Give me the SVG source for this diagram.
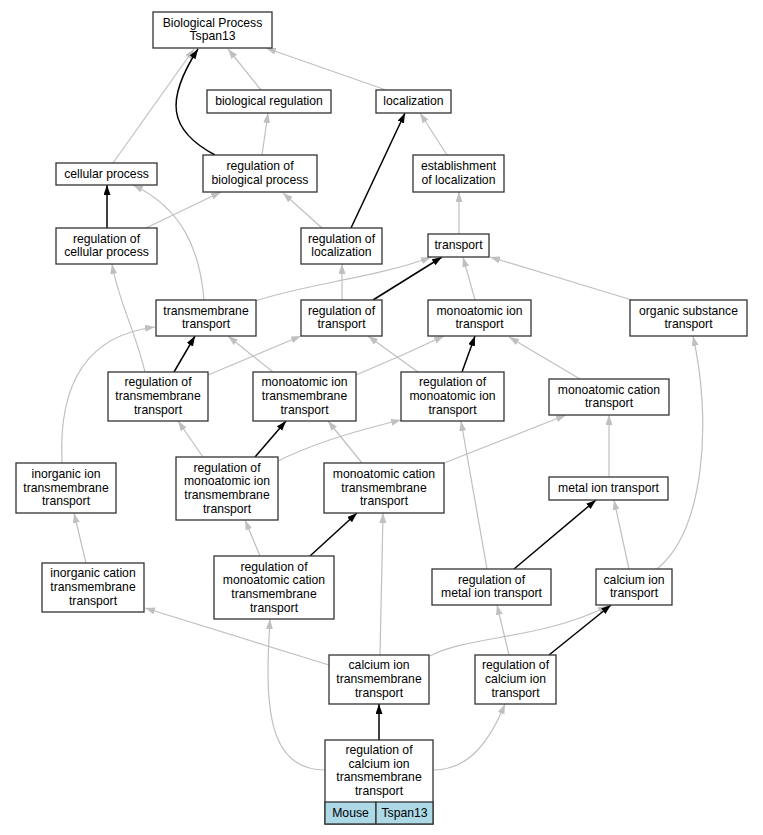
<svg xmlns="http://www.w3.org/2000/svg" width="763" height="835" viewBox="0 0 763 835">
<style>
.n rect{fill:#fff;stroke:#333;stroke-width:1.3}
.n text,.lg text{font-family:"Liberation Sans",Arial,sans-serif;font-size:12.2px;fill:#000;text-anchor:middle}
.lg rect{fill:#add8e6;stroke:#333;stroke-width:1.3}
.g{fill:none;stroke:#c0c0c0;stroke-width:1.2;marker-end:url(#ag)}
.b{fill:none;stroke:#000;stroke-width:1.5;marker-end:url(#ab)}
</style>
<defs>
<marker id="ag" markerUnits="userSpaceOnUse" markerWidth="11" markerHeight="8" refX="10" refY="3.5" orient="auto"><path d="M0,0L10,3.5L0,7z" fill="#c0c0c0"/></marker>
<marker id="ab" markerUnits="userSpaceOnUse" markerWidth="11" markerHeight="8" refX="10" refY="3.5" orient="auto"><path d="M0,0L10,3.5L0,7z" fill="#000"/></marker>
</defs>
<rect width="763" height="835" fill="#fff"/>
<g id="edges">
<path class="g" d="M113,163L194,49"/>
<path class="b" d="M215,155C168,130 165,100 198,49"/>
<path class="g" d="M261,90L228,49"/>
<path class="g" d="M386,90L266,48"/>
<path class="g" d="M262,155L268,113"/>
<path class="b" d="M351,228L405,113"/>
<path class="g" d="M447,155L420,113"/>
<path class="b" d="M107,228L107,185"/>
<path class="g" d="M204,300C200,250 182,208 133,185"/>
<path class="g" d="M146,228L221,192"/>
<path class="g" d="M322,228L283,193"/>
<path class="g" d="M459,234L459,192"/>
<path class="g" d="M145,372C135,330 118,300 112,264"/>
<path class="g" d="M342,300L342,264"/>
<path class="g" d="M256,301C300,285 380,277 431,257"/>
<path class="b" d="M373,300L442,257"/>
<path class="g" d="M475,300L463,257"/>
<path class="g" d="M632,300L490,257"/>
<path class="b" d="M174,372L195,336"/>
<path class="g" d="M273,372L228,336"/>
<path class="g" d="M62,463C58,380 90,335 155,327"/>
<path class="g" d="M208,375L301,336"/>
<path class="g" d="M418,372L368,336"/>
<path class="g" d="M356,375C380,365 410,352 444,336"/>
<path class="b" d="M462,372L475,336"/>
<path class="g" d="M580,379L509,337"/>
<path class="g" d="M657,569C705,530 712,420 693,336"/>
<path class="g" d="M203,457L178,421"/>
<path class="b" d="M255,457L286,421"/>
<path class="g" d="M362,463L328,421"/>
<path class="g" d="M278,461C310,445 350,432 401,420"/>
<path class="g" d="M487,569L461,421"/>
<path class="g" d="M444,463L566,415"/>
<path class="g" d="M609,477L609,415"/>
<path class="g" d="M86,563L74,513"/>
<path class="b" d="M310,556L357,513"/>
<path class="g" d="M380,655L383,513"/>
<path class="b" d="M514,569L596,500"/>
<path class="g" d="M629,569L614,500"/>
<path class="g" d="M260,556L245,520"/>
<path class="g" d="M329,665L145,608"/>
<path class="g" d="M325,770C265,770 265,700 270,619"/>
<path class="g" d="M430,656C470,635 540,640 608,606"/>
<path class="b" d="M549,655L611,605"/>
<path class="g" d="M509,655L497,605"/>
<path class="b" d="M379,740L379,704"/>
<path class="g" d="M433,770C470,770 490,740 505,704"/>
</g>
<g id="n1" class="n"><rect x="153" y="12" width="119" height="36"/><text x="212.5" y="26.7">Biological Process</text><text x="212.5" y="40.4">Tspan13</text></g>
<g id="n2" class="n"><rect x="207" y="90" width="124" height="23"/><text x="269" y="105">biological regulation</text></g>
<g id="n3" class="n"><rect x="376" y="90" width="75" height="23"/><text x="413.5" y="105">localization</text></g>
<g id="n4" class="n"><rect x="56" y="163" width="101" height="22"/><text x="106.5" y="177.5">cellular process</text></g>
<g id="n5" class="n"><rect x="203" y="155" width="114" height="37"/><text x="260" y="170.2">regulation of</text><text x="260" y="183.9">biological process</text></g>
<g id="n6" class="n"><rect x="413" y="155" width="91" height="37"/><text x="458.5" y="170.2">establishment</text><text x="458.5" y="183.9">of localization</text></g>
<g id="n7" class="n"><rect x="56" y="228" width="101" height="36"/><text x="106.5" y="242.7">regulation of</text><text x="106.5" y="256.4">cellular process</text></g>
<g id="n8" class="n"><rect x="301" y="228" width="81" height="36"/><text x="341.5" y="242.7">regulation of</text><text x="341.5" y="256.4">localization</text></g>
<g id="n9" class="n"><rect x="428" y="234" width="61" height="23"/><text x="458.5" y="249">transport</text></g>
<g id="n10" class="n"><rect x="156" y="300" width="100" height="36"/><text x="206" y="314.7">transmembrane</text><text x="206" y="328.4">transport</text></g>
<g id="n11" class="n"><rect x="301" y="300" width="81" height="36"/><text x="341.5" y="314.7">regulation of</text><text x="341.5" y="328.4">transport</text></g>
<g id="n12" class="n"><rect x="428" y="300" width="103" height="36"/><text x="479.5" y="314.7">monoatomic ion</text><text x="479.5" y="328.4">transport</text></g>
<g id="n13" class="n"><rect x="630" y="300" width="117" height="36"/><text x="688.5" y="314.7">organic substance</text><text x="688.5" y="328.4">transport</text></g>
<g id="n14" class="n"><rect x="108" y="372" width="100" height="49"/><text x="158" y="386.3">regulation of</text><text x="158" y="400">transmembrane</text><text x="158" y="413.7">transport</text></g>
<g id="n15" class="n"><rect x="253" y="372" width="103" height="49"/><text x="304.5" y="386.3">monoatomic ion</text><text x="304.5" y="400">transmembrane</text><text x="304.5" y="413.7">transport</text></g>
<g id="n16" class="n"><rect x="401" y="372" width="103" height="49"/><text x="452.5" y="386.3">regulation of</text><text x="452.5" y="400">monoatomic ion</text><text x="452.5" y="413.7">transport</text></g>
<g id="n17" class="n"><rect x="549" y="379" width="120" height="36"/><text x="609" y="393.7">monoatomic cation</text><text x="609" y="407.4">transport</text></g>
<g id="n18" class="n"><rect x="16" y="463" width="100" height="50"/><text x="66" y="477.8">inorganic ion</text><text x="66" y="491.5">transmembrane</text><text x="66" y="505.2">transport</text></g>
<g id="n19" class="n"><rect x="176" y="457" width="102" height="63"/><text x="227" y="471.5">regulation of</text><text x="227" y="485.2">monoatomic ion</text><text x="227" y="498.9">transmembrane</text><text x="227" y="512.6">transport</text></g>
<g id="n20" class="n"><rect x="324" y="463" width="120" height="50"/><text x="384" y="477.8">monoatomic cation</text><text x="384" y="491.5">transmembrane</text><text x="384" y="505.2">transport</text></g>
<g id="n21" class="n"><rect x="549" y="477" width="119" height="23"/><text x="608.5" y="492">metal ion transport</text></g>
<g id="n22" class="n"><rect x="42" y="563" width="102" height="49"/><text x="93" y="577.3">inorganic cation</text><text x="93" y="591">transmembrane</text><text x="93" y="604.7">transport</text></g>
<g id="n23" class="n"><rect x="214" y="556" width="120" height="63"/><text x="274" y="570.5">regulation of</text><text x="274" y="584.2">monoatomic cation</text><text x="274" y="597.9">transmembrane</text><text x="274" y="611.6">transport</text></g>
<g id="n24" class="n"><rect x="432" y="569" width="119" height="36"/><text x="491.5" y="583.7">regulation of</text><text x="491.5" y="597.4">metal ion transport</text></g>
<g id="n25" class="n"><rect x="596" y="569" width="76" height="36"/><text x="634" y="583.7">calcium ion</text><text x="634" y="597.4">transport</text></g>
<g id="n26" class="n"><rect x="329" y="655" width="100" height="49"/><text x="379" y="669.3">calcium ion</text><text x="379" y="683">transmembrane</text><text x="379" y="696.7">transport</text></g>
<g id="n27" class="n"><rect x="475" y="655" width="81" height="49"/><text x="515.5" y="669.3">regulation of</text><text x="515.5" y="683">calcium ion</text><text x="515.5" y="696.7">transport</text></g>
<g id="n28" class="n"><rect x="325" y="740" width="108" height="84"/><text x="379" y="754">regulation of</text><text x="379" y="767.7">calcium ion</text><text x="379" y="781.4">transmembrane</text><text x="379" y="795.1">transport</text>
<g class="lg"><rect x="325" y="802" width="51" height="22"/><rect x="376" y="802" width="57" height="22"/><text x="350.5" y="817">Mouse</text><text x="404.5" y="817">Tspan13</text></g></g>
</svg>
